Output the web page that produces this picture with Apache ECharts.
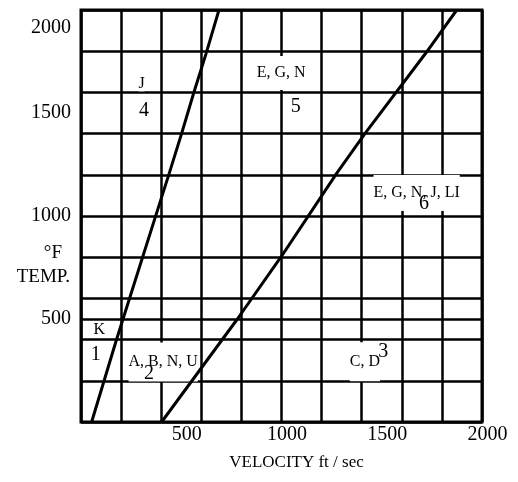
<!DOCTYPE html>
<html>
<head>
<meta charset="utf-8">
<script src="https://cdn.jsdelivr.net/npm/echarts@6/dist/echarts.min.js"></script>
<style>
    html, body { margin: 0; padding: 0; background: #fff; }
    #chart { width: 518px; height: 482px; }
</style>
</head>
<body>
<div id="chart"></div>
<script>
// axis ticks
var velLabels = [500, 1000, 1500, 2000];
var tempLabels = [500, 1000, 1500, 2000];
var tempGrid = [0, 200, 400, 500, 600, 800, 1000, 1200, 1400, 1600, 1800, 2000];

// the two boundary lines (velocity ft/sec, temperature °F)
var line1Vel = [53, 175, 208, 403, 440, 502, 564, 623, 688];
var line1Temp = [0, 393, 495, 1094, 1207, 1401, 1603, 1786, 2000];
var line2Vel = [402, 780, 1001, 1275, 1416, 1719, 1874];
var line2Temp = [0, 500, 806, 1207, 1400, 1790, 2000];

// zone letters and zone numbers
var zoneNames = ['K', 'A, B, N, U', 'C, D', 'J', 'E, G, N', 'E, G, N, J, LI'];
var zoneNameVel = [91, 410, 1416, 302, 998, 1674];
var zoneNameTemp = [447, 333, 261, 1644, 1675, 1150];
var zoneNums = ['1', '2', '3', '4', '5', '6'];
var zoneNumVel = [73, 339, 1508, 314, 1071, 1711];
var zoneNumTemp = [325, 233, 341, 1511, 1531, 1058];

// white box around each zone name, [top, bottom] padding so it hides grid lines
var namePads = [[0, 0], [3, 20], [18, 5], [0, 0], [13, 5], [2, 18]];

var FONT = 'Liberation Serif';

function pairs(xs, ys) {
    var out = [];
    for (var i = 0; i < xs.length; i++) {
        out.push([xs[i], ys[i]]);
    }
    return out;
}

function plain(v) {
    return String(v);
}

var nameData = zoneNames.map(function (name, i) {
    var t = namePads[i][0], b = namePads[i][1];
    return {
        value: [zoneNameVel[i], zoneNameTemp[i]],
        name: name,
        label: {
            padding: [t, 0, b, 0],
            offset: [0, (b - t) / 2]
        }
    };
});

var numData = zoneNums.map(function (num, i) {
    return { value: [zoneNumVel[i], zoneNumTemp[i]], name: num };
});

var gridLine = { color: '#000', width: 2.5 };

var chart = echarts.init(document.getElementById('chart'));
chart.setOption({
    animation: false,
    backgroundColor: '#fff',
    grid: {
        left: 81, right: 36, top: 10, bottom: 60,
        containLabel: false,
        outerBoundsMode: 'none',
        show: true, borderColor: '#000', borderWidth: 3
    },
    xAxis: {
        type: 'value',
        min: 0, max: 2000, interval: 200,
        axisLine: { show: false },
        axisTick: { show: false },
        splitLine: { show: true, lineStyle: gridLine },
        axisLabel: {
            customValues: velLabels,
            formatter: plain,
            margin: 3,
            fontFamily: FONT, fontSize: 20, color: '#000',
            padding: [0, 0, 0, 11]
        },
        name: 'VELOCITY ft / sec',
        nameLocation: 'middle',
        nameGap: 32,
        nameMoveOverlap: false,
        nameTextStyle: {
            fontFamily: FONT, fontSize: 17, color: '#000',
            padding: [0, 0, 0, 30]
        }
    },
    yAxis: {
        type: 'value',
        min: 0, max: 2000,
        axisLine: { show: false },
        axisTick: { show: false, customValues: tempGrid },
        splitLine: { show: true, lineStyle: gridLine },
        axisLabel: {
            customValues: tempLabels,
            formatter: plain,
            margin: 10,
            fontFamily: FONT, fontSize: 20, color: '#000',
            padding: [8, 0, 0, 0],
            verticalAlignMaxLabel: 'top'
        },
        name: '{a|°F}\n{b|TEMP.}',
        nameLocation: 'middle',
        nameRotate: 0,
        nameGap: 11,
        nameMoveOverlap: false,
        nameTextStyle: {
            align: 'right',
            verticalAlign: 'middle',
            padding: [98, 0, 0, 0],
            rich: {
                a: { fontFamily: FONT, fontSize: 19, color: '#000', lineHeight: 24, padding: [0, 8, 0, 0] },
                b: { fontFamily: FONT, fontSize: 19, color: '#000', lineHeight: 24 }
            }
        }
    },
    series: [
        {
            type: 'line',
            data: pairs(line1Vel, line1Temp),
            showSymbol: false,
            lineStyle: { color: '#000', width: 3 },
            z: 6
        },
        {
            type: 'line',
            data: pairs(line2Vel, line2Temp),
            showSymbol: false,
            lineStyle: { color: '#000', width: 3 },
            z: 6
        },
        {
            type: 'scatter',
            data: nameData,
            symbolSize: 0,
            itemStyle: { opacity: 1 },
            z: 4,
            label: {
                show: true,
                position: 'inside',
                formatter: '{b}',
                opacity: 1,
                fontFamily: FONT, fontSize: 16, lineHeight: 16, color: '#000',
                backgroundColor: '#fff'
            }
        },
        {
            type: 'scatter',
            data: numData,
            symbolSize: 0,
            itemStyle: { opacity: 1 },
            z: 5,
            label: {
                show: true,
                position: 'inside',
                formatter: '{b}',
                opacity: 1,
                fontFamily: FONT, fontSize: 20, color: '#000'
            }
        }
    ]
});
</script>
</body>
</html>
